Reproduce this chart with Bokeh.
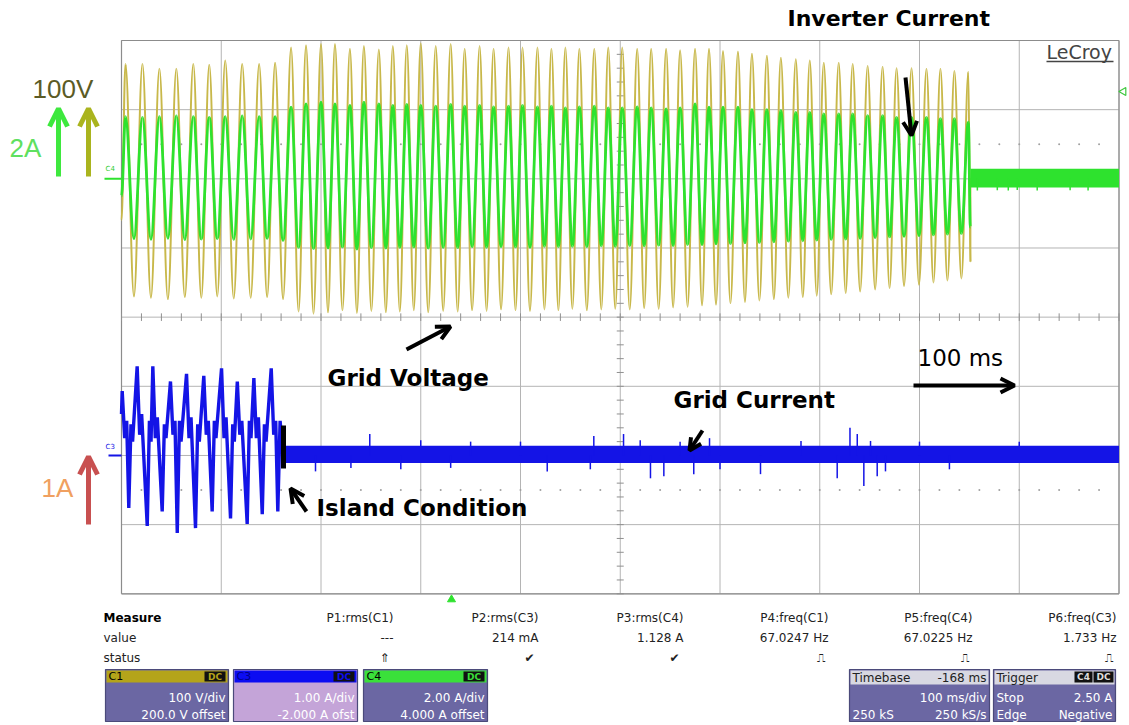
import numpy as np
from bokeh.plotting import figure
from bokeh.models import Range1d, Arrow, OpenHead
from bokeh.core.properties import value
from bokeh.embed import file_html
from bokeh.resources import INLINE

# ---------------- scope settings ----------------
ms_per_div = 100
volt_per_div = 100.0      # C1 grid voltage
volt_zero_div = 2.0
inv_amp_per_div = 2.0     # C4 inverter current
inv_zero_div = 2.0
grid_amp_per_div = 1.0    # C3 grid current
grid_zero_div = -2.0

# ---------------- waveform data (read from the screen) ----------------
# times (ms) of each positive / negative half-cycle extreme
peak_ms = [4, 21, 38, 55, 72, 88, 104, 121, 138, 154, 170, 185, 200, 214, 229, 243, 258, 272,
           286, 300, 315, 330, 344, 359, 373, 388, 402, 417, 431, 445, 459, 474, 488, 502, 517,
           531, 546, 560, 575, 589, 603, 618, 632, 647, 661, 676, 690, 704, 719, 733, 748, 763,
           777, 792, 807, 821, 835, 849]
trough_ms = [12.5, 29.5, 46.5, 63.5, 80, 96, 112.5, 129.5, 146, 162, 177.5, 192.5, 207, 221.5,
             236, 250.5, 265, 279, 293, 307.5, 322.5, 337, 351.5, 366, 380.5, 395, 409.5, 424,
             438, 452, 466.5, 481, 495, 509.5, 524, 538.5, 553, 567.5, 582, 596, 610.5, 625,
             639.5, 654, 668.5, 683, 697, 711.5, 726, 740.5, 755.5, 770, 784.5, 799.5, 814, 828, 842]
voltage_peak_v = [166, 166, 159, 159, 166, 165, 171, 166, 166, 168,
                  190, 193, 195, 195, 188, 192, 187, 192,
                  193, 196, 192, 195, 188, 192, 188, 190, 190, 190, 188, 190, 188, 188, 190, 190,
                  188, 188, 188, 186,
                  188, 188, 185, 184, 181, 178, 175, 173, 171, 168, 168, 166, 163, 162, 160, 160,
                  159, 159, 156, 155]
voltage_trough_v = [-170, -172, -174, -171, -172, -170, -173, -172, -171, -174,
                    -192, -195, -193, -190, -194, -191, -193, -192, -190, -193, -191, -192, -190,
                    -191, -189, -190, -191, -189, -190, -188, -190, -189, -188, -189, -187, -188,
                    -186, -185,
                    -183, -182, -180, -178, -176, -174, -172, -171, -169, -167, -165, -163, -160,
                    -158, -155, -153, -150, -147, -144]
inverter_peak_a = [1.80, 1.78, 1.80, 1.82, 1.80, 1.78, 1.80, 1.82, 1.80, 1.80,
                   2.07, 2.17, 2.22, 2.17, 2.12, 2.22, 2.17, 2.12,
                   2.15, 2.12, 2.10, 2.15, 2.10, 2.12, 2.08, 2.10, 2.12, 2.08, 2.10, 2.05, 2.08,
                   2.10, 2.05, 2.05, 2.08, 2.05, 2.02, 2.05,
                   2.17, 2.07, 2.07, 2.07, 2.00, 2.00, 1.97, 1.92, 1.92, 1.88, 1.88, 1.88, 1.83,
                   1.83, 1.78, 1.78, 1.78, 1.74, 1.74, 1.64]
inverter_trough_a = [-1.73, -1.75, -1.72, -1.76, -1.74, -1.73, -1.75, -1.74, -1.72, -1.78,
                     -1.98, -2.02, -2.00, -1.97, -2.03, -1.99, -2.00, -1.98, -1.97, -2.00, -1.98,
                     -1.99, -1.96, -1.98, -1.96, -1.97, -1.98, -1.95, -1.96, -1.95, -1.96, -1.94,
                     -1.95, -1.93, -1.94, -1.92, -1.93, -1.90,
                     -1.90, -1.88, -1.87, -1.85, -1.84, -1.82, -1.80, -1.79, -1.77, -1.75, -1.74,
                     -1.72, -1.70, -1.68, -1.66, -1.64, -1.62, -1.60, -1.58]
start_ms = 0
voltage_start_v = -60
inverter_start_a = -0.5
trip_ms = 851            # inverter shuts down
voltage_trip_v = -120
inverter_trip_a = -1.4
voltage_off_v = 0
inverter_noise_a = (-0.25, 0.29)
inverter_spike_ms = [858, 878, 889, 898, 918, 951, 969]
inverter_spike_a = [-0.34, -0.33, -0.34, -0.32, -0.34, -0.33, -0.34]

# grid current (C3) before islanding: extremes of each cycle
grid_cycle_ms = [0.0, 0.7, 3.2, 5.2, 7.3, 9.5, 11.1,
                 15.7, 18.2, 20.2, 25.8, 28.0, 29.6,
                 31.4, 33.9, 35.9, 40.8, 43.0, 44.6,
                 49.1, 51.6, 53.6, 55.9, 58.1, 59.7,
                 65.2, 67.7, 69.7, 74.2, 76.4, 78.0,
                 82.5, 85.0, 87.0, 90.9, 93.1, 94.7,
                 100.3, 102.8, 104.8, 109.3, 111.5, 113.1,
                 116.1, 118.6, 120.6, 126.0, 128.2, 129.8,
                 132.7, 135.2, 137.2, 141.1, 143.3, 144.9,
                 150.1, 152.6, 154.6, 156.7, 159.0, 162.0]
grid_cycle_a = [0.6, 0.93, 0.25, 0.5, -0.76, 0.45, 0.2,
                1.29, 0.3, 0.6, -1.02, 0.5, 0.2,
                1.29, 0.25, 0.55, -0.81, 0.45, 0.25,
                1.07, 0.3, 0.5, -1.12, 0.5, 0.2,
                1.18, 0.25, 0.55, -1.05, 0.45, 0.2,
                1.15, 0.3, 0.5, -0.81, 0.5, 0.25,
                1.26, 0.25, 0.55, -0.91, 0.45, 0.2,
                1.07, 0.3, 0.5, -0.99, 0.5, 0.25,
                1.12, 0.25, 0.55, -0.85, 0.45, 0.2,
                1.26, 0.3, 0.5, -0.81, 0.5, 0.0]
island_ms = 162
grid_noise_a = (-0.11, 0.14)
grid_spike_ms = [194.5, 230, 248.9, 280, 300, 330, 350, 400, 426.8, 470, 473.5, 503.3, 520,
                 530.3, 543.7, 560, 573.7, 589.5, 600, 640.6, 681.2, 717.5, 730.3, 737.6, 744.2,
                 750.9, 757.6, 765.9, 800, 830, 900]
grid_spike_a = [-0.23, -0.18, 0.31, -0.2, 0.22, -0.18, 0.2, 0.2, -0.23, -0.2, 0.28, 0.31, 0.22,
                -0.33, -0.3, 0.2, -0.27, 0.25, -0.2, -0.27, 0.21, -0.33, 0.40, 0.31, -0.44,
                0.21, -0.3, -0.23, 0.2, -0.2, 0.2]

# ---------------- measurement panel ----------------
measure_names = ["P1:rms(C1)", "P2:rms(C3)", "P3:rms(C4)", "P4:freq(C1)", "P5:freq(C4)", "P6:freq(C3)"]
measure_values = ["---", "214 mA", "1.128 A", "67.0247 Hz", "67.0225 Hz", "1.733 Hz"]
measure_status = ["\u21d1", "\u2714", "\u2714", "\u238d", "\u238d", "\u238d"]
channel_names = ["C1", "C3", "C4"]
channel_header_colors = ["#b4a41a", "#0c0cf2", "#3ae03a"]
channel_body_colors = ["#6b67a3", "#c4a4d8", "#6b67a3"]
channel_scale = ["100 V/div", "1.00 A/div", "2.00 A/div"]
channel_offset = ["200.0 V offset", "-2.000 A ofst", "4.000 A offset"]
timebase_info = ["-168 ms", "100 ms/div", "250 kS", "250 kS/s"]
trigger_info = ["C4", "DC", "Stop", "2.50 A", "Edge", "Negative"]

# ---------------- helpers (layout positions in screen pixels) ----------------
PX_PER_MS = 0.9975
PX_PER_DIV = 69.16
X0, YC = 121.0, 316.65


def X(px):
    return (px - X0) / PX_PER_MS


def Y(py):
    return (YC - py) / PX_PER_DIV


FONT = "DejaVu Sans"

p = figure(width=1129, height=725, x_range=Range1d(X(0), X(1129)), y_range=Range1d(Y(725), Y(0)),
           output_backend="svg", toolbar_location=None, x_axis_type=None, y_axis_type=None,
           min_border=0, title=None)
p.outline_line_color = None
p.background_fill_color = "white"
p.border_fill_color = "white"


def txt(px, py, s, size, color="#000000", bold=False, align="left", font=FONT, angle=0.0):
    p.text(x=[X(px)], y=[Y(py)], text=[s], text_font=value(font), text_font_size=f"{size}px",
           text_color=color, text_align=align, text_baseline="middle",
           text_font_style="bold" if bold else "normal", angle=angle)


def arrow(x0, y0, x1, y1, color="#000000", w=4, size=14):
    p.add_layout(Arrow(end=OpenHead(size=size, line_color=color, line_width=w),
                       x_start=X(x0), y_start=Y(y0), x_end=X(x1), y_end=Y(y1),
                       line_color=color, line_width=w))


def box(x0, y0, x1, y1, fill, line=None, lw=1):
    p.quad(left=[X(x0)], right=[X(x1)], top=[Y(y0)], bottom=[Y(y1)], fill_color=fill,
           line_color=line, line_width=lw)


def smooth_wave(ts, ys, color, width):
    """Draw a trace through successive extremes with flat (sine-like) tops."""
    t = np.asarray(ts, dtype=float)
    y = np.asarray(ys, dtype=float)
    d = 0.364 * (t[1:] - t[:-1])
    p.bezier(x0=t[:-1], y0=y[:-1], x1=t[1:], y1=y[1:], cx0=t[:-1] + d, cy0=y[:-1],
             cx1=t[1:] - d, cy1=y[1:], line_color=color, line_width=width)


# ---------------- graticule ----------------
n_x = 10
n_y = 8
vx = [i * ms_per_div for i in range(n_x + 1)]
p.segment(x0=vx, y0=[-n_y / 2] * len(vx), x1=vx, y1=[n_y / 2] * len(vx), line_color="#b4b4b4", line_width=1)
hy = [j - n_y / 2 for j in range(n_y + 1)]
p.segment(x0=[0] * len(hy), y0=hy, x1=[n_x * ms_per_div] * len(hy), y1=hy, line_color="#b4b4b4", line_width=1)
p.segment(x0=[0, 1000, 0, 0], y0=[-4, -4, 4, -4], x1=[0, 1000, 1000, 1000], y1=[4, 4, 4, -4],
          line_color="#8c8c8c", line_width=1.2)
tx = np.arange(0, 1001, 20)
p.segment(x0=tx, y0=np.full(len(tx), -0.055), x1=tx, y1=np.full(len(tx), 0.055), line_color="#909090", line_width=1)
ty = np.arange(-4, 4.01, 0.2)
p.segment(x0=np.full(len(ty), 496.5), y0=ty, x1=np.full(len(ty), 503.5), y1=ty, line_color="#909090", line_width=1)
dx = np.arange(20, 1000, 20)
p.scatter(x=np.concatenate([dx, dx]), y=np.concatenate([np.full(len(dx), 2.5), np.full(len(dx), -2.5)]),
          size=2, marker="circle", color="#a0a0a0", line_color=None)

# ---------------- build waveforms ----------------
t_seq = []
v_seq = []
i_seq = []
for k in range(len(trough_ms)):
    t_seq += [peak_ms[k], trough_ms[k]]
    v_seq += [voltage_peak_v[k], voltage_trough_v[k]]
    i_seq += [inverter_peak_a[k], inverter_trough_a[k]]
t_seq.append(peak_ms[-1])
v_seq.append(voltage_peak_v[-1])
i_seq.append(inverter_peak_a[-1])

# C1 grid voltage (yellow)
vt = [start_ms] + t_seq + [trip_ms]
vv = [voltage_start_v] + v_seq + [voltage_trip_v]
smooth_wave(vt, [volt_zero_div + v / volt_per_div for v in vv], "#c8b84a", 2)
p.line(x=[trip_ms, trip_ms, n_x * ms_per_div],
       y=[volt_zero_div + voltage_trip_v / volt_per_div, volt_zero_div + voltage_off_v / volt_per_div,
          volt_zero_div + voltage_off_v / volt_per_div], line_color="#c8b84a", line_width=2)

# C4 inverter current (green)
it = [start_ms] + t_seq + [trip_ms]
iv = [inverter_start_a] + i_seq + [inverter_trip_a]
smooth_wave(it, [inv_zero_div + a / inv_amp_per_div for a in iv], "#2ee22e", 2.8)
p.quad(left=[trip_ms], right=[n_x * ms_per_div],
       bottom=[inv_zero_div + inverter_noise_a[0] / inv_amp_per_div],
       top=[inv_zero_div + inverter_noise_a[1] / inv_amp_per_div], fill_color="#2ee22e", line_color=None)
p.segment(x0=inverter_spike_ms, y0=[inv_zero_div] * len(inverter_spike_ms), x1=inverter_spike_ms,
          y1=[inv_zero_div + a / inv_amp_per_div for a in inverter_spike_a], line_color="#2ee22e", line_width=1.5)

# C3 grid current (blue)
p.line(x=grid_cycle_ms, y=[grid_zero_div + a / grid_amp_per_div for a in grid_cycle_a],
       line_color="#1414e6", line_width=3.4)
p.quad(left=[island_ms], right=[n_x * ms_per_div],
       bottom=[grid_zero_div + grid_noise_a[0] / grid_amp_per_div],
       top=[grid_zero_div + grid_noise_a[1] / grid_amp_per_div], fill_color="#1414e6", line_color=None)
p.segment(x0=grid_spike_ms, y0=[grid_zero_div] * len(grid_spike_ms), x1=grid_spike_ms,
          y1=[grid_zero_div + a / grid_amp_per_div for a in grid_spike_a], line_color="#1414e6", line_width=1.5)

# ---------------- channel markers ----------------
p.segment(x0=[X(104)], y0=[inv_zero_div], x1=[0], y1=[inv_zero_div], line_color="#2ee22e", line_width=2)
txt(105, 168, "C4", 7, "#2ecc2e")
p.segment(x0=[X(108)], y0=[grid_zero_div], x1=[0], y1=[grid_zero_div], line_color="#1414e6", line_width=2)
txt(105, 446, "C3", 7, "#1414e6")
p.scatter(x=[X(1123)], y=[Y(91)], marker="triangle", angle=np.pi / 2, size=8, fill_color=None,
          line_color="#3ec83e", line_width=1.2)
p.scatter(x=[X(451)], y=[Y(599)], marker="triangle", size=8, fill_color="#2ee22e", line_color="#2ee22e")

# ---------------- annotations ----------------
txt(787, 18, "Inverter Current", 22, bold=True)
txt(1046, 51, "LeCroy", 19, "#444444")
p.segment(x0=[X(1046)], y0=[Y(61)], x1=[X(1113)], y1=[Y(61)], line_color="#444444", line_width=1.5)
arrow(905, 77, 911, 135)

txt(32, 88, "100V", 26, "#5b5b25", font="Liberation Sans")
txt(9, 147, "2A", 26, "#5fe05f", font="Liberation Sans")
arrow(58, 176, 58, 108, color="#3ee83e", w=5, size=18)
arrow(88, 176, 88, 108, color="#aab41e", w=5, size=18)
txt(41, 487, "1A", 26, "#f0a060", font="Liberation Sans")
arrow(88, 524, 88, 456, color="#c85050", w=5, size=18)

txt(327, 377, "Grid Voltage", 23, bold=True)
arrow(406, 349, 450, 326)
txt(673, 399, "Grid Current", 23, bold=True)
arrow(702, 430, 689, 450, size=12)
txt(316, 507, "Island Condition", 23, bold=True)
arrow(306, 511, 290, 488)
p.segment(x0=[X(283)], y0=[Y(425)], x1=[X(283)], y1=[Y(468)], line_color="#000000", line_width=5)
txt(917, 357, "100 ms", 23)
arrow(913, 385, 1014, 385)

# ---------------- measurement table ----------------
col_right = [393, 538, 683, 828, 972, 1116]
txt(103, 617, "Measure", 12, bold=True)
txt(103, 637, "value", 12, "#222222")
txt(103, 657, "status", 12, "#222222")
for k in range(len(measure_names)):
    txt(col_right[k], 617, measure_names[k], 12, "#222222", align="right")
    txt(col_right[k], 637, measure_values[k], 12, "#222222", align="right")
    txt(col_right[k] - 4, 657, measure_status[k], 12, "#222222", align="right")

box_x = [(105, 228), (233, 357), (363, 487)]
for k in range(len(channel_names)):
    x0, x1 = box_x[k]
    box(x0, 669, x1, 721, channel_body_colors[k], "#4b4a7a", 1.2)
    box(x0 + 1, 670, x1 - 1, 682, channel_header_colors[k])
    txt(x0 + 3, 676, channel_names[k], 11, "#000000" if k != 1 else "#00008a")
    box(x1 - 24, 671, x1 - 3, 681, "#111111")
    txt(x1 - 13.5, 676, "DC", 9, channel_header_colors[k], bold=True, align="center")
    txt(x1 - 3, 697, channel_scale[k], 12, "#ffffff", align="right")
    txt(x1 - 3, 714, channel_offset[k], 12, "#ffffff", align="right")

box(849, 669, 989, 721, "#6b67a3", "#4b4a7a", 1.2)
box(850, 670, 988, 684, "#d8d8e2")
txt(852, 677, "Timebase", 12, "#222222")
txt(986, 677, timebase_info[0], 12, "#222222", align="right")
txt(986, 697, timebase_info[1], 12, "#ffffff", align="right")
txt(852, 714, timebase_info[2], 12, "#ffffff")
txt(986, 714, timebase_info[3], 12, "#ffffff", align="right")

box(993, 669, 1115, 721, "#6b67a3", "#4b4a7a", 1.2)
box(994, 670, 1114, 684, "#d8d8e2")
txt(996, 677, "Trigger", 12, "#222222")
box(1074, 671, 1092, 682, "#111111")
txt(1083, 676.5, trigger_info[0], 9, "#dddddd", bold=True, align="center")
box(1093, 671, 1113, 682, "#111111")
txt(1103, 676.5, trigger_info[1], 9, "#dddddd", bold=True, align="center")
txt(996, 697, trigger_info[2], 12, "#ffffff")
txt(1112, 697, trigger_info[3], 12, "#ffffff", align="right")
txt(996, 714, trigger_info[4], 12, "#ffffff")
txt(1112, 714, trigger_info[5], 12, "#ffffff", align="right")

open("out.html", "w").write(file_html(p, INLINE))
